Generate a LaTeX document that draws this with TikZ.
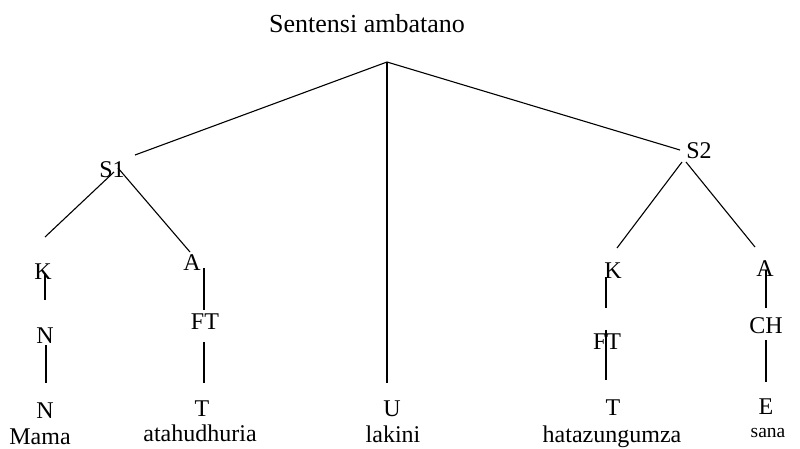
\documentclass[tikz,border=0pt]{standalone}
\usepackage{fontspec}
\setmainfont{Liberation Serif}
\begin{document}
\begin{tikzpicture}[x=1pt,y=-1pt,
  lbl/.style={inner sep=0pt, anchor=base, font=\fontsize{24}{27}\selectfont},
  ttl/.style={inner sep=0pt, anchor=base, font=\fontsize{26}{30}\selectfont},
  small/.style={inner sep=0pt, anchor=base, font=\fontsize{19.5}{22}\selectfont},
  edge/.style={line width=1.1pt, black}]
\useasboundingbox (0,0) rectangle (800,448);
% labels
\node[ttl] (title) at (367,32) {Sentensi ambatano};
\node[lbl] (s1) at (112,177) {S1};
\node[lbl] (s2) at (699,158) {S2};
\node[lbl] (k1) at (43,279) {K};
\node[lbl] (a1) at (192,270) {A};
\node[lbl] (ft1) at (205,329) {FT};
\node[lbl] (n1) at (45,343) {N};
\node[lbl] (n2) at (45,418) {N};
\node[lbl] (mama) at (40,444) {Mama};
\node[lbl] (t1) at (202,416) {T};
\node[lbl] (w1) at (200,441) {atahudhuria};
\node[lbl] (u) at (392,416) {U};
\node[lbl] (lakini) at (393,442) {lakini};
\node[lbl] (k2) at (613,278) {K};
\node[lbl] (ft2) at (607,349) {FT};
\node[lbl] (t2) at (613,415) {T};
\node[lbl] (w2) at (612,442) {hatazungumza};
\node[lbl] (a2) at (765,276) {A};
\node[lbl] (ch) at (766,333) {CH};
\node[lbl] (e) at (766,414) {E};
\node[small] (sana) at (768,437) {sana};
% connector ends
\coordinate (apex) at (387,62);
\coordinate (s1top) at (135,155);
\coordinate (s2top) at (680,150);
\coordinate (ubot) at (387,383);
\coordinate (s1l) at (114,172); \coordinate (k1top) at (45,237);
\coordinate (s1r) at (118,168); \coordinate (a1top) at (190,252);
\coordinate (k1a) at (45,273); \coordinate (k1b) at (45,300);
\coordinate (n1a) at (46,345); \coordinate (n1b) at (46,383);
\coordinate (a1a) at (204,268); \coordinate (a1b) at (204,310);
\coordinate (ft1a) at (204,342); \coordinate (ft1b) at (204,383);
\coordinate (s2l) at (682,162); \coordinate (k2top) at (617,248);
\coordinate (s2r) at (686,162); \coordinate (a2top) at (755,247);
\coordinate (k2a) at (606,277); \coordinate (k2b) at (606,308);
\coordinate (ft2a) at (606,330); \coordinate (ft2b) at (606,380);
\coordinate (a2a) at (766,270); \coordinate (a2b) at (766,308);
\coordinate (cha) at (766,340); \coordinate (chb) at (766,382);
% connectors
\draw[edge] (s1top) -- (apex) -- (s2top);
\draw[edge] (apex) -- (ubot);
\draw[edge] (s1l) -- (k1top);
\draw[edge] (s1r) -- (a1top);
\draw[edge] (k1a) -- (k1b);
\draw[edge] (n1a) -- (n1b);
\draw[edge] (a1a) -- (a1b);
\draw[edge] (ft1a) -- (ft1b);
\draw[edge] (s2l) -- (k2top);
\draw[edge] (s2r) -- (a2top);
\draw[edge] (k2a) -- (k2b);
\draw[edge] (ft2a) -- (ft2b);
\draw[edge] (a2a) -- (a2b);
\draw[edge] (cha) -- (chb);
\end{tikzpicture}
\end{document}
